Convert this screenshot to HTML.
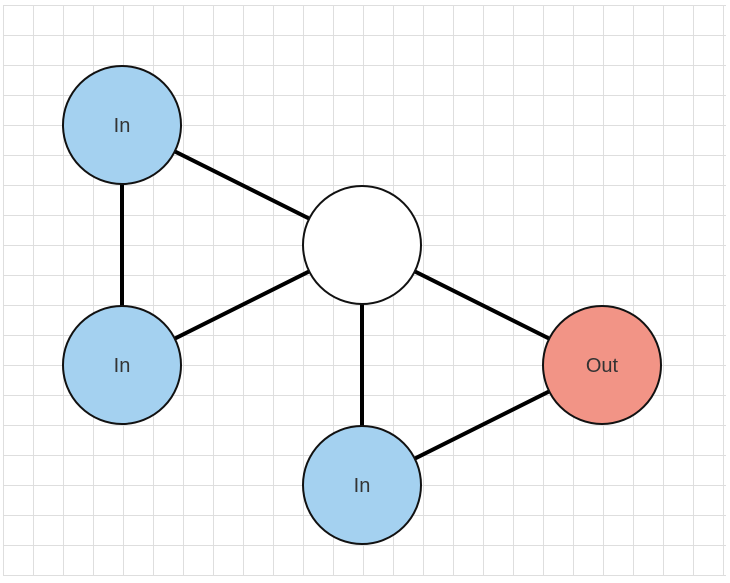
<!DOCTYPE html>
<html><head><style>body{margin:0;background:#fff}</style></head><body>
<svg width="730" height="578" xmlns="http://www.w3.org/2000/svg">
<defs><pattern id="g" x="3" y="5" width="30" height="30" patternUnits="userSpaceOnUse"><path d="M0 0H30M0 0V30" stroke="#dedede" stroke-width="2" fill="none"/></pattern></defs>
<rect x="3" y="5" width="723" height="571" fill="url(#g)"/>
<g stroke="#000" stroke-width="4">
<line x1="122" y1="125" x2="362" y2="245"/>
<line x1="122" y1="125" x2="122" y2="365"/>
<line x1="122" y1="365" x2="362" y2="245"/>
<line x1="362" y1="245" x2="602" y2="365"/>
<line x1="362" y1="245" x2="362" y2="485"/>
<line x1="362" y1="485" x2="602" y2="365"/>
</g>
<g stroke="#111" stroke-width="2">
<circle cx="122" cy="125" r="59" fill="#a4d1f0"/>
<circle cx="122" cy="365" r="59" fill="#a4d1f0"/>
<circle cx="362" cy="245" r="59" fill="#fff"/>
<circle cx="602" cy="365" r="59" fill="#f29486"/>
<circle cx="362" cy="485" r="59" fill="#a4d1f0"/>
</g>
<g font-family="Liberation Sans, sans-serif" font-size="20" fill="#333" text-anchor="middle">
<text x="122" y="132">In</text>
<text x="122" y="372">In</text>
<text x="602" y="372">Out</text>
<text x="362" y="492">In</text>
</g>
</svg>
</body></html>
